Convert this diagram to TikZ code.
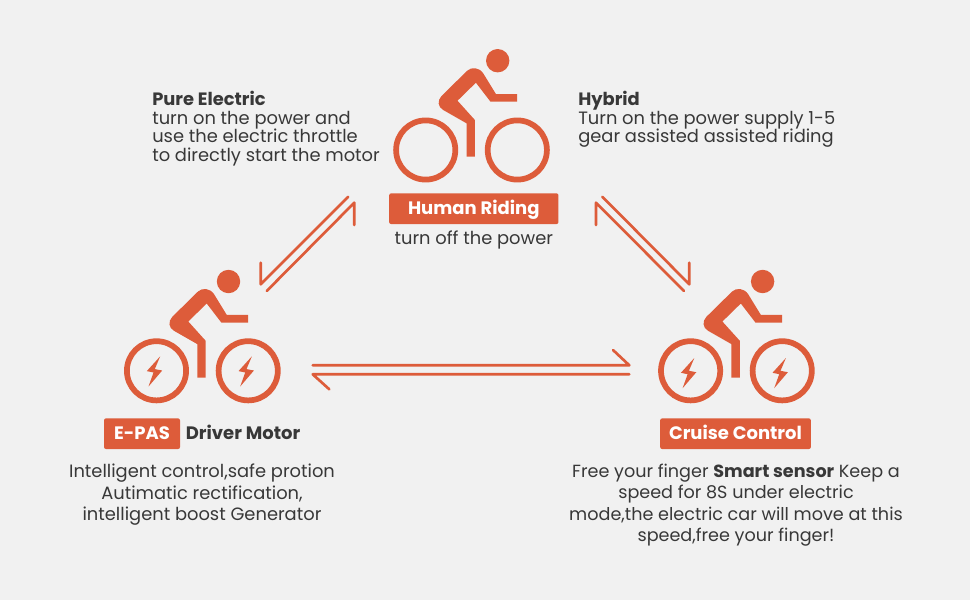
\documentclass[tikz,border=0pt]{standalone}
\usepackage{fontspec}
\setmainfont{Poppins}
\usetikzlibrary{positioning}
\definecolor{bikeorange}{HTML}{DD5C3A}
\definecolor{pagegrey}{HTML}{F1F1F1}
\definecolor{inkgrey}{HTML}{383838}
\tikzset{
  rider/.pic={
    \fill[bikeorange] (72,-89.3) circle (11.7);
    \fill[bikeorange] (41.5,-79.3) -- (15.8,-54)
      .. controls (11.5,-49.5) and (12,-43) .. (17.5,-40)
      -- (40.8,-26.7) -- (40.8,6.7) -- (49.2,6.7) -- (49.2,-30)
      -- (31.8,-49.3) -- (50.2,-67.3) -- (64.8,-48.3) -- (91.5,-48.3)
      -- (91.5,-56) -- (70.2,-56) -- (57.5,-76.7)
      .. controls (53.5,-82.7) and (45.8,-83.3) .. cycle;
  },
  bolt/.pic={
    \fill[bikeorange] (3.7,-14.5) -- (-9.7,0.3) -- (-3,1.7) -- (-8,15.7)
      -- (5.7,-0.3) -- (-1.7,-1.7) -- cycle;
  },
  wheel/.style={draw=bikeorange, line width=4.3pt},
  link/.style={draw=bikeorange, line width=2pt, line cap=round, line join=round},
  tag/.style={fill=bikeorange, rounded corners=1.5pt, text=white, inner sep=0pt,
    font=\fontsize{13.5}{16}\selectfont\bfseries, minimum height=23pt,
    text height=10pt, text depth=0.6pt},
  note/.style={text=inkgrey, inner sep=0pt, font=\fontsize{13.4}{13.9}\selectfont},
  wide note/.style={note, font=\fontsize{13.4}{16.1}\selectfont},
}
\begin{document}
\begin{tikzpicture}[x=0.75pt, y=-0.75pt]
  \fill[pagegrey] (0,0) rectangle (970,600);
  \useasboundingbox (0,0) rectangle (970,600);

  % Human riding
  \pic at (425.7,150) {rider};
  \draw[wheel] (425.7,150) circle (29.6);
  \draw[wheel] (517.3,150) circle (29.6);
  \node[tag, minimum width=127pt] (human) at (473.8,208.7) {Human Riding};
  \node[note, below=5pt of human] (humantext) {turn off the power};

  % E-PAS
  \pic at (156.5,370.8) {rider};
  \draw[wheel] (156.5,370.8) circle (29.6);
  \draw[wheel] (248.2,370.8) circle (29.6);
  \pic at (156.5,370.8) {bolt};
  \pic at (248.2,370.8) {bolt};
  \node[tag, minimum width=57pt] (epas) at (142,433.7) {E-PAS};
  \node[note, right=4pt of epas, font=\fontsize{13.5}{16}\selectfont\bfseries,
    text height=10pt, text depth=0.6pt] (driver) {Driver Motor};
  \node[wide note, align=center] (epastext) at (202,495)
    {Intelligent control,safe protion\\Autimatic rectification,\\intelligent boost Generator};

  % Cruise control
  \pic at (690.6,370.8) {rider};
  \draw[wheel] (690.6,370.8) circle (29.6);
  \draw[wheel] (782.2,370.8) circle (29.6);
  \pic at (690.6,372.5) {bolt};
  \pic at (782.2,372.5) {bolt};
  \node[tag, minimum width=113pt] (cruise) at (735.5,433.7) {Cruise Control};
  \node[wide note, align=center, font=\fontsize{13.2}{16.1}\selectfont] (cruisetext) at (736,505)
    {Free your finger \textbf{Smart sensor} Keep a\\speed for 8S under electric\\mode,the electric car will move at this\\speed,free your finger!};

  % Upper texts
  \node[note, align=left, anchor=north west] (pure) at (152,91)
    {\textbf{Pure Electric}\\turn on the power and\\use the electric throttle\\to directly start the motor};
  \node[note, align=left, anchor=north west] (hybrid) at (578,91)
    {\textbf{Hybrid}\\Turn on the power supply 1-5\\gear assisted assisted riding};

  % Arrow ends
  \coordinate (la) at (348.3,196.7);
  \coordinate (lb) at (260.7,284.3);
  \coordinate (lc) at (260.7,262.7);
  \coordinate (ld) at (266.7,291);
  \coordinate (le) at (354.3,202.7);
  \coordinate (lf) at (354.3,225);
  \coordinate (ra) at (602.3,196.7);
  \coordinate (rb) at (689.3,284.3);
  \coordinate (rc) at (689.3,262.7);
  \coordinate (rd) at (684,291);
  \coordinate (re) at (596,202.7);
  \coordinate (rf) at (596,225);
  \coordinate (ba) at (312.7,365.3);
  \coordinate (bb) at (629.3,365.3);
  \coordinate (bc) at (613,350);
  \coordinate (bd) at (629.3,374.3);
  \coordinate (be) at (312.7,374.3);
  \coordinate (bf) at (329.3,389.3);

  \draw[link] (la) -- (lb) -- (lc);
  \draw[link] (ld) -- (le) -- (lf);
  \draw[link] (ra) -- (rb) -- (rc);
  \draw[link] (rd) -- (re) -- (rf);
  \draw[link] (ba) -- (bb) -- (bc);
  \draw[link] (bd) -- (be) -- (bf);
\end{tikzpicture}
\end{document}
